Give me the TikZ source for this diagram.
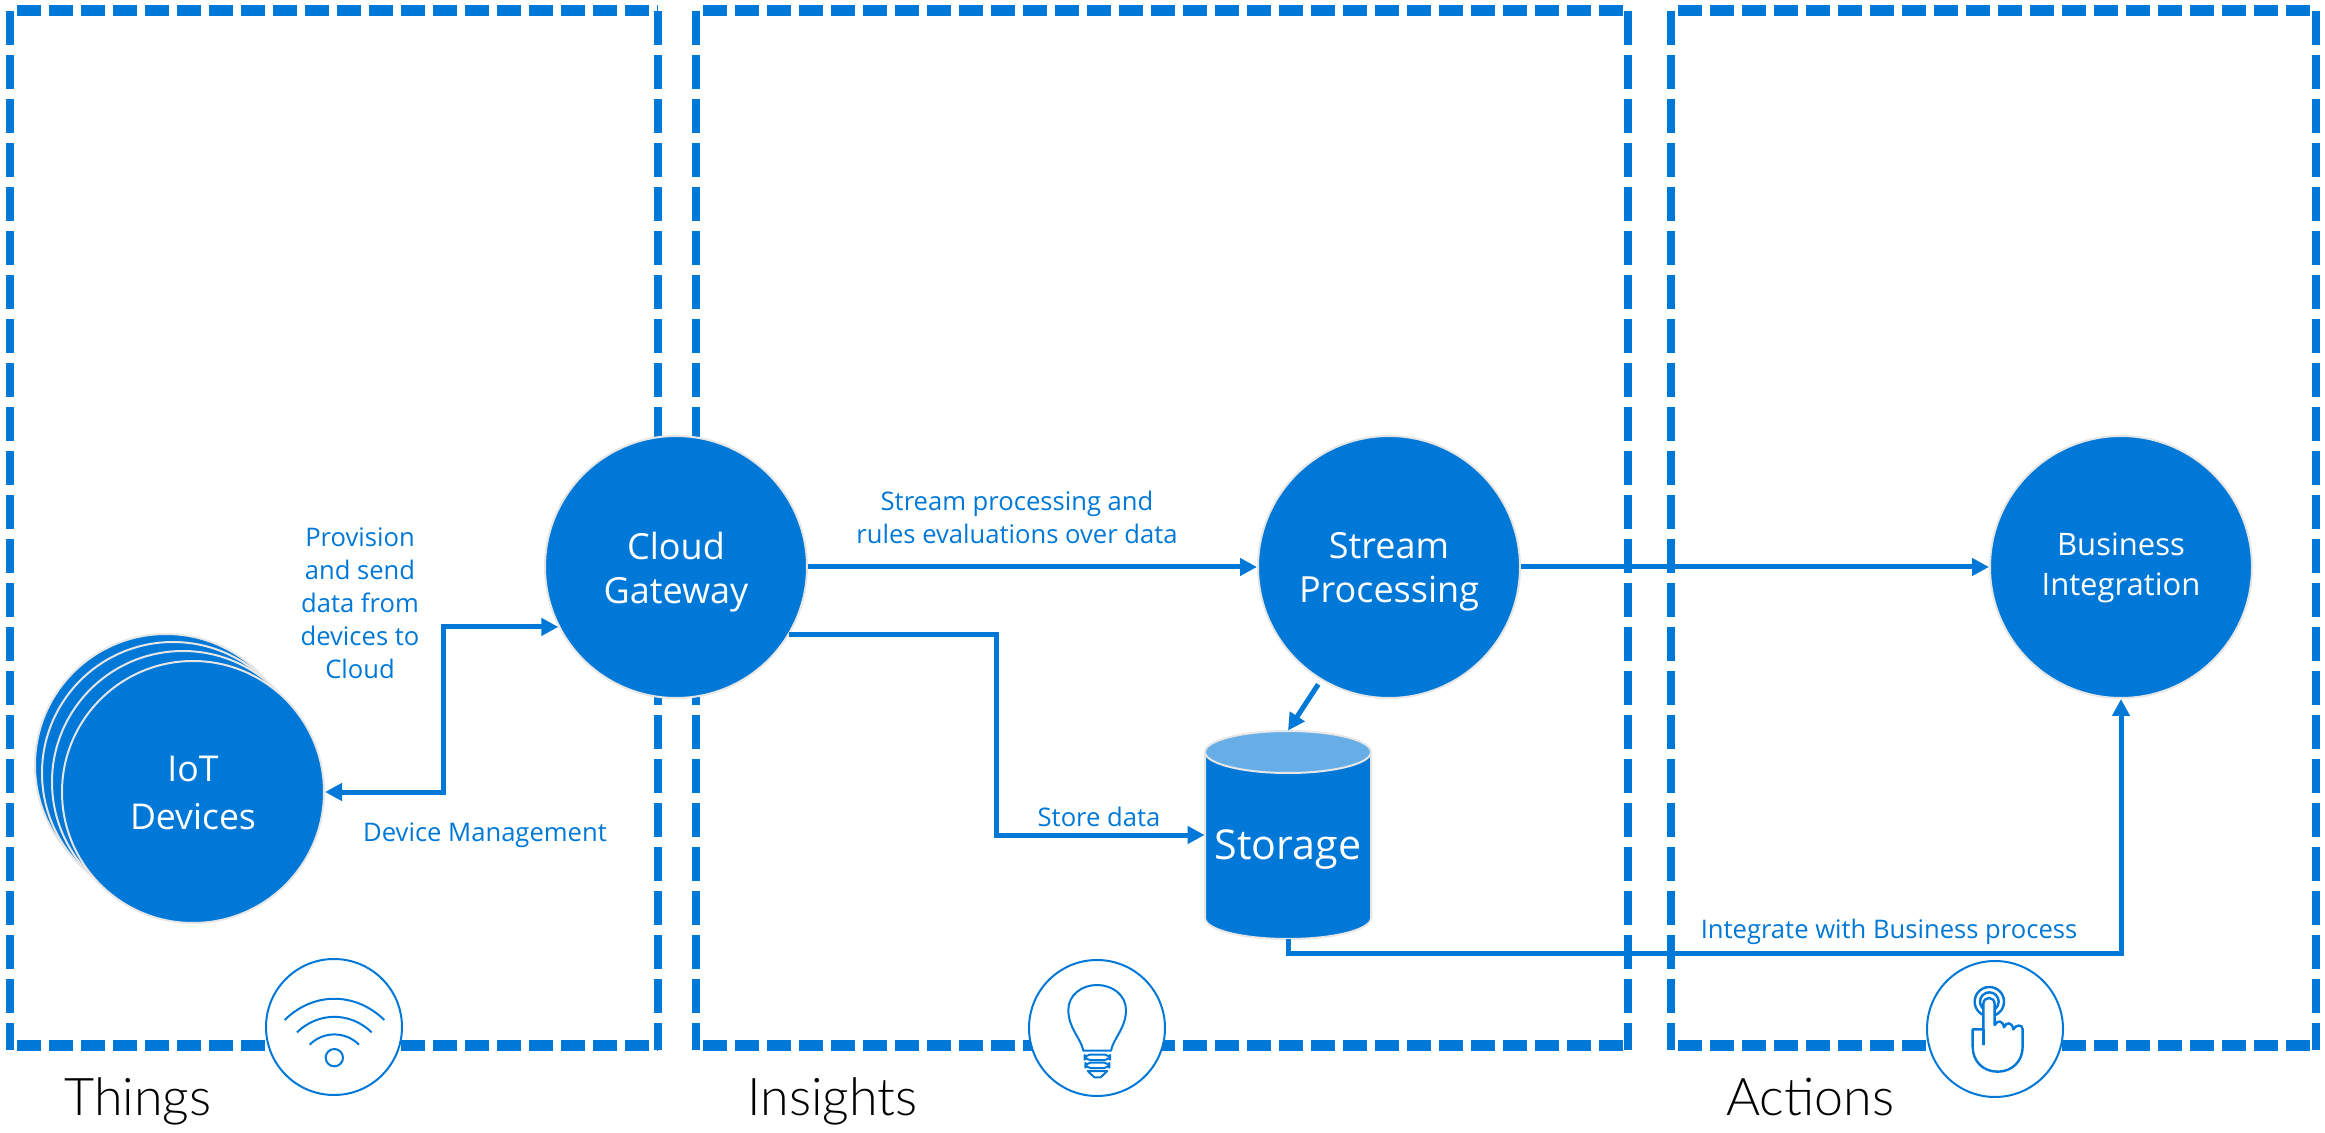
\documentclass[tikz,border=0pt]{standalone}
\usepackage{fontspec}
\setmainfont{Open Sans}
\newfontfamily\thinfont{Lato Light}
\usetikzlibrary{arrows.meta,calc}
\definecolor{azure}{HTML}{0078D7}
\definecolor{azurelight}{HTML}{68AEE6}
\definecolor{rimgrey}{HTML}{E6E6E6}
\tikzset{
  x=0.5pt,y=-0.5pt,
  hdash/.style={draw=azure,line width=5.5pt,dash pattern=on 12pt off 4pt},
  vdash/.style={draw=azure,line width=4pt,dash pattern=on 16.8pt off 5.2pt},
  bigcircle/.style={circle,fill=azure,draw=rimgrey,line width=1pt,minimum size=131pt,inner sep=0pt},
  disctext/.style={inner sep=0pt,align=center,text=white,font=\fontsize{18}{22}\selectfont},
  iconring/.style={circle,fill=white,draw=azure,line width=1pt,minimum size=68pt,inner sep=0pt},
  conn/.style={draw=azure,line width=2.5pt},
  tip/.style={-{Triangle[length=8.5pt,width=8.5pt]}},
  bothtip/.style={{Triangle[length=8.5pt,width=8.5pt]}-{Triangle[length=8.5pt,width=8.5pt]}},
  note/.style={text=azure,align=center,inner sep=0pt,font=\fontsize{12.8}{16.5}\selectfont},
  heading/.style={text=black,inner sep=0pt,anchor=base west,font=\thinfont\fontsize{26}{30}\selectfont},
  iconline/.style={draw=azure,line width=1pt,line join=round},
}
\begin{document}
\begin{tikzpicture}
\useasboundingbox (0,0) rectangle (2325,1133);
% dashed frames
\foreach \l/\r in {9.5/658,696/1628,1671/2316}{
  \draw[hdash] (\l+7,11) -- (\r,11);
  \draw[hdash] (\l+7,1045) -- (\r,1045);
  \draw[vdash] (\l,11) -- (\l,1050);
  \draw[vdash] (\r,11) -- (\r,1050);
}
% device stack
\node[bigcircle] (iotd) at (166,765) {};
\node[bigcircle] (iotc) at (173,773) {};
\node[bigcircle] (iotb) at (183,782) {};
\node[bigcircle] (iot) at (193,792) {};
\node[bigcircle] (gw) at (676,567) {};
\node[bigcircle] (stream) at (1389,567) {};
\node[bigcircle] (biz) at (2121,567) {};
\node[disctext,font=\fontsize{17.8}{23.6}\selectfont] (iottext) at (193,793) {IoT\\Devices};
\node[disctext] (gwtext) at (676,572) {Cloud\\Gateway};
\node[disctext] (streamtext) at (1389,572) {Stream\\Processing};
\node[disctext,font=\fontsize{15.5}{20}\selectfont] (biztext) at (2121,568) {Business\\Integration};
% storage
\path[fill=azure,draw=rimgrey,line width=1pt] (1205,752) -- (1205,918) arc[start angle=180,end angle=360,x radius=83,y radius=-21] -- (1371,752) -- cycle;
\path[fill=azurelight,draw=rimgrey,line width=1pt] (1288,752) ellipse[x radius=83,y radius=21];
\node[minimum width=83pt,minimum height=104pt,inner sep=0pt] (storage) at (1288,835) {};
\node[text=white,inner sep=0pt,font=\fontsize{20.6}{24}\selectfont] (storagetext) at (1288,850) {Storage};
% connectors
\coordinate (bendiot) at (443,700);
\coordinate (bendstore) at (996,700);
\coordinate (bendbiz) at (1288,953);
\draw[conn,bothtip] (iot.east) -- (bendiot |- iot.east) -- (bendiot |- gw.207) -- (gw.207);
\draw[conn,tip] (gw.east) -- (stream.west);
\draw[conn,tip] (stream.east) -- (biz.west);
\draw[conn,tip] (gw.-31.5) -- (bendstore |- gw.-31.5) -- (bendstore |- storage.west) -- (storage.west);
\draw[conn,tip,shorten <=2.5pt] (stream.239.3) -- (storage.north);
\draw[conn,tip] (storage.south) -- (bendbiz) -- (biz.south |- bendbiz) -- (biz.south);
% labels
\node[note] (n1) at (360,603) {Provision\\and send\\data from\\devices to\\Cloud};
\node[note] (n2) at (485,835) {Device Management};
\node[note] (n3) at (1017,517) {Stream processing and\\rules evaluations over data};
\node[note] (n4) at (1099,817) {Store data};
\node[note] (n5) at (1889,932) {Integrate with Business process};
\node[heading] (h1) at (64,1115) {Things};
\node[heading] (h2) at (747,1115) {Insights};
\node[heading] (h3) at (1726,1115) {Actions};
% icon rings
\node[iconring] (wifi) at (334,1027) {};
\node[iconring] (bulb) at (1097,1028) {};
\node[iconring] (hand) at (1995,1029) {};
% wifi glyph
\begin{scope}[shift={(230,950)},x=0.16667pt,y=-0.16667pt]
  \draw[iconline] (164,210) .. controls (250,125) and (376,125) .. (463,210);
  \draw[iconline] (201,247) .. controls (265,185) and (361,185) .. (425,247);
  \draw[iconline] (239,284) .. controls (280,243) and (346,243) .. (387,284);
  \draw[iconline] (313,323) circle (26);
\end{scope}
% bulb glyph
\begin{scope}[shift={(1000,930)},x=0.16667pt,y=-0.16667pt]
  \draw[iconline] (250,362) .. controls (243,325) and (205,295) .. (205,240)
     .. controls (205,195) and (245,165) .. (291,165)
     .. controls (337,165) and (378,195) .. (378,240)
     .. controls (378,295) and (340,325) .. (333,362) -- cycle;
  \draw[iconline,rounded corners=2.5pt] (254,374) rectangle (330,390);
  \draw[iconline,rounded corners=2.5pt] (256,398) rectangle (328,414);
  \draw[iconline] (263,423) -- (322,423) -- (302,442) -- (283,442) -- cycle;
\end{scope}
% hand glyph
\begin{scope}[shift={(1900,930)},x=0.16667pt,y=-0.16667pt]
  \draw[iconline,line width=1.2pt] (268,215) circle (44);
  \draw[iconline,line width=1.2pt] (268,215) circle (28);
  \draw[iconline,line width=1.2pt,fill=white] (250,345) -- (250,222) .. controls (250,198) and (284,198) .. (284,222) -- (284,285)
     .. controls (292,270) and (308,270) .. (312,292)
     .. controls (318,275) and (336,275) .. (340,298)
     .. controls (346,284) and (368,282) .. (368,298)
     -- (368,350) .. controls (368,395) and (335,425) .. (293,425)
     .. controls (250,425) and (218,395) .. (218,350) -- (218,298) -- (250,298);
  \draw[iconline,line width=1.2pt] (250,298) -- (250,345);
\end{scope}
\end{tikzpicture}
\end{document}
